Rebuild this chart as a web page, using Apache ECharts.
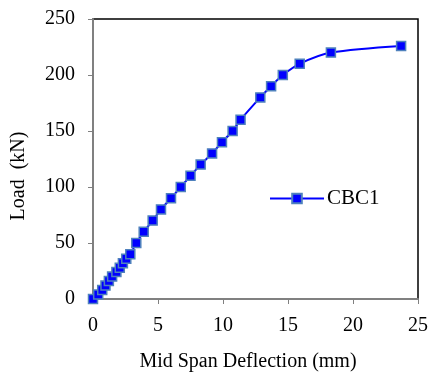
<!DOCTYPE html>
<html>
<head>
<meta charset="utf-8">
<script src="https://cdn.jsdelivr.net/npm/echarts@6/dist/echarts.min.js"></script>
<style>html,body{margin:0;padding:0;background:#fff}#c{width:431px;height:374px}</style>
</head>
<body>
<div id="c"></div>
<script>
const seriesName = 'CBC1';
const deflection = [0, 0.4, 0.71, 0.96, 1.22, 1.47, 1.8, 2.06, 2.3, 2.56, 2.87, 3.33, 3.9, 4.59, 5.23, 6.0, 6.75, 7.5, 8.28, 9.16, 9.92, 10.74, 11.35, 12.87, 13.7, 14.6, 15.9, 18.3, 23.7];
const load = [0, 4, 8, 12, 16, 20, 24, 28, 32, 36, 40, 50, 60, 70, 80, 90, 100, 110, 120, 130, 140, 150, 160, 180, 190, 200, 210, 220, 226];
const xTitle = 'Mid Span Deflection (mm)';
const yTitle = 'Load  (kN)';

const font = 'Liberation Serif, Times New Roman, serif';
const chart = echarts.init(document.getElementById('c'), null, {renderer: 'canvas'});
chart.setOption({
  animation: false,
  backgroundColor: '#fff',
  grid: {left: 93, right: 10, top: 19, bottom: 75, show: true, borderColor: '#000', borderWidth: 1.5, backgroundColor: 'transparent'},
  legend: {
    left: 269, top: 188, padding: 0, itemWidth: 54, itemHeight: 12,
    data: [seriesName],
    textStyle: {fontFamily: font, fontSize: 21, color: '#000', padding: [0, 0, 0, -2]}
  },
  graphic: [
    {type: 'text', x: 19, y: 176, rotation: Math.PI / 2,
     style: {text: yTitle, fontFamily: font, fontSize: 20, fill: '#000', align: 'center', verticalAlign: 'middle'}},
    {type: 'text', x: 248, y: 362,
     style: {text: xTitle, fontFamily: font, fontSize: 20, fill: '#000', align: 'center', verticalAlign: 'middle'}}
  ],
  xAxis: {
    type: 'value', min: 0, max: 25, interval: 5,
    axisLine: {lineStyle: {color: '#808080', width: 2}},
    axisTick: {show: true, length: 5, lineStyle: {color: '#808080', width: 1}},
    axisLabel: {fontFamily: font, fontSize: 20, color: '#000', margin: 17},
    splitLine: {show: false}
  },
  yAxis: {
    type: 'value', min: 0, max: 250, interval: 50,
    axisLine: {show: true, lineStyle: {color: '#808080', width: 2}},
    axisTick: {show: true, length: 5, lineStyle: {color: '#808080', width: 1}},
    axisLabel: {fontFamily: font, fontSize: 20, color: '#000', margin: 18},
    splitLine: {show: false}
  },
  series: [{
    name: seriesName,
    type: 'line',
    data: deflection.map((d, i) => [d, load[i]]),
    smooth: 0.3,
    symbol: 'rect', symbolSize: 9,
    itemStyle: {color: '#0000FF', borderColor: '#4F81BD', borderWidth: 1.5},
    lineStyle: {color: '#0000FF', width: 2}
  }]
});
</script>
</body>
</html>
